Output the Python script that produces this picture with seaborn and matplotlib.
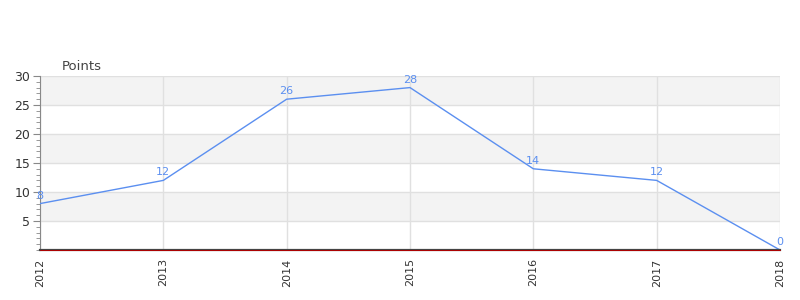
import matplotlib
matplotlib.use("Agg")
import matplotlib.pyplot as plt
import seaborn as sns
import pandas as pd
from matplotlib.ticker import MultipleLocator

years = [2012, 2013, 2014, 2015, 2016, 2017, 2018]
points = [8, 12, 26, 28, 14, 12, 0]
y_ticks = [5, 10, 15, 20, 25, 30]

df = pd.DataFrame({"year": years, "points": points})

sns.set_style("white")
plt.rcParams['font.family'] = ['DejaVu Sans']

fig = plt.figure(figsize=(8, 3), dpi=100)
ax = fig.add_axes([0.05, 0.1667, 0.925, 0.58])

line_color = "#5b8ff0"
# horizontal bands
for i, lo in enumerate(range(0, 30, 5)):
    if i % 2 == 1:
        ax.axhspan(lo, lo + 5, color="#f3f3f3", zorder=0, lw=0)
for y in y_ticks:
    ax.axhline(y, color="#e0e0e0", lw=1, zorder=1)
for x in years:
    ax.axvline(x, color="#e0e0e0", lw=1, zorder=1)

sns.lineplot(data=df, x="year", y="points", ax=ax, color=line_color, lw=1, zorder=3)
for x, y in zip(years, points):
    ax.text(x, y + 0.5, str(y), color=line_color, fontsize=8, ha="center", va="bottom", zorder=4)

ax.axhline(0, color="#b00000", lw=0.7, zorder=5, clip_on=False)

ax.set_xlim(2012, 2018)
ax.set_ylim(0, 30)
ax.set_xticks(years)
ax.set_xticklabels([str(y) for y in years], rotation=90, fontsize=8, color="#333333")
ax.set_yticks(y_ticks)
ax.set_yticklabels([str(y) for y in y_ticks], fontsize=9, color="#333333")
ax.yaxis.set_minor_locator(MultipleLocator(1))
ax.tick_params(axis="y", which="major", length=5, color="#888888", left=True, pad=2)
ax.tick_params(axis="y", which="minor", length=3, color="#888888", left=True)
ax.tick_params(axis="x", length=0, pad=6)
ax.set_xlabel("")
ax.set_ylabel("")
for s in ["top", "right"]:
    ax.spines[s].set_visible(False)
ax.spines["left"].set_color("#888888")
ax.spines["bottom"].set_color("#444444")
ax.spines["bottom"].set_linewidth(1.6)
ax.spines["bottom"].set_zorder(4)

fig.text(62 / 800, 1 - 66 / 300, "Points", fontsize=9.5, color="#444444", ha="left", va="center")

fig.savefig("out.png", dpi=100)
